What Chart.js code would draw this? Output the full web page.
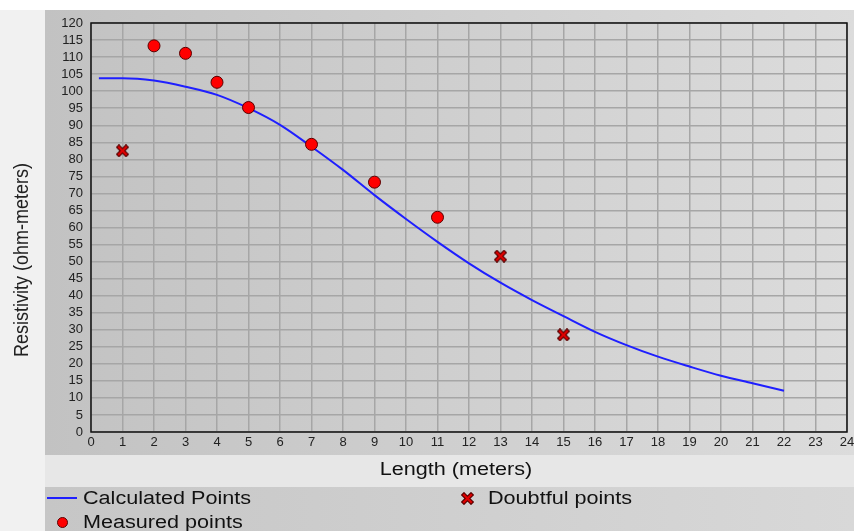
<!DOCTYPE html>
<html>
<head>
<meta charset="utf-8">
<script src="https://cdn.jsdelivr.net/npm/chart.js@4.4.0/dist/chart.umd.min.js"></script>
<style>
  html, body { margin: 0; padding: 0; background: #fff; }
  #wrap { position: relative; width: 854px; height: 531px; }
  #legend {
    position: absolute; left: 47px; top: 486px;
    display: grid; grid-template-columns: 405px auto;
    font: 18px "Liberation Sans", Arial, sans-serif; color: #111;
  }
  .item { display: flex; align-items: center; height: 24px; white-space: nowrap; }
  .mark { width: 30px; height: 16px; display: flex; align-items: center; justify-content: center; margin-right: 6px; }
  .txt { display: inline-block; transform: scaleX(1.2); transform-origin: left center; }
</style>
</head>
<body>
<div id="wrap">
  <canvas id="chart" width="854" height="531"></canvas>
  <div id="legend"></div>
</div>
<script>
// calculated curve
const calcX = [0.25, 1, 2, 3, 4, 5, 6, 7, 8, 9, 10, 11, 12, 13, 14, 15, 16, 17, 18, 19, 20, 21, 22]
const calcY = [103.8, 103.8, 103.1, 101.3, 98.9, 95.0, 90.1, 83.7, 76.9, 69.5, 62.5, 55.8, 49.5, 43.8, 38.7, 34.0, 29.4, 25.5, 22.1, 19.2, 16.5, 14.3, 12.1]

// measured points
const measX = [2, 3, 4, 5, 7, 9, 11]
const measY = [113.3, 111.1, 102.6, 95.2, 84.4, 73.3, 63.0]

// doubtful points
const doubtX = [1, 13, 15]
const doubtY = [82.5, 51.6, 28.5]

const xTitle = 'Length (meters)'
const yTitle = 'Resistivity (ohm-meters)'

const FONT = '"Liberation Sans", Arial, sans-serif'
const toPts = (xs, ys) => xs.map((x, i) => ({ x: x, y: ys[i] }))

// little red cross used for the doubtful points
const cross = document.createElement('canvas')
cross.width = 13; cross.height = 13
const cc = cross.getContext('2d')
cc.lineCap = 'square'
cc.beginPath()
cc.moveTo(3, 3); cc.lineTo(10, 10)
cc.moveTo(10, 3); cc.lineTo(3, 10)
cc.strokeStyle = '#5a0000'; cc.lineWidth = 4.5; cc.stroke()
cc.strokeStyle = '#e00000'; cc.lineWidth = 2.2; cc.stroke()

const background = {
    id: 'background',
    beforeDraw(chart) {
        const ctx = chart.ctx
        ctx.save()
        ctx.fillStyle = '#ffffff'
        ctx.fillRect(0, 0, 854, 531)
        ctx.fillStyle = '#f1f1f1'
        ctx.fillRect(0, 10, 854, 521)
        let g = ctx.createLinearGradient(45, 0, 854, 0)
        g.addColorStop(0, '#c2c2c2')
        g.addColorStop(1, '#dcdcdc')
        ctx.fillStyle = g
        ctx.fillRect(45, 10, 809, 445)
        ctx.fillStyle = '#e7e7e7'
        ctx.fillRect(45, 455, 809, 32)
        g = ctx.createLinearGradient(45, 0, 854, 0)
        g.addColorStop(0, '#c6c6c6')
        g.addColorStop(1, '#d8d8d8')
        ctx.fillStyle = g
        ctx.fillRect(45, 487, 809, 44)
        ctx.restore()
    },
    afterDraw(chart) {
        const a = chart.chartArea
        const ctx = chart.ctx
        ctx.save()
        ctx.strokeStyle = '#111'
        ctx.lineWidth = 1.5
        ctx.strokeRect(a.left, a.top, a.right - a.left, a.bottom - a.top)
        ctx.font = '18px ' + FONT
        ctx.fillStyle = '#111'
        ctx.textAlign = 'center'
        ctx.textBaseline = 'middle'
        // x axis title (the original is a bit stretched sideways)
        ctx.save()
        ctx.translate(456, 470)
        ctx.scale(1.2, 1)
        ctx.fillText(xTitle, 0, 0)
        ctx.restore()
        // y axis title
        ctx.translate(22, 260)
        ctx.rotate(-Math.PI / 2)
        ctx.scale(1, 1.15)
        ctx.fillStyle = '#222'
        ctx.fillText(yTitle, 0, 0)
        ctx.restore()
    }
}

const chart = new Chart(document.getElementById('chart'), {
    type: 'scatter',
    data: {
        datasets: [
            {
                label: 'Calculated Points',
                data: toPts(calcX, calcY),
                showLine: true,
                borderColor: '#1f1fff',
                borderWidth: 2,
                pointRadius: 0,
                cubicInterpolationMode: 'monotone',
                order: 3
            },
            {
                label: 'Doubtful points',
                data: toPts(doubtX, doubtY),
                pointStyle: cross,
                order: 1
            },
            {
                label: 'Measured points',
                data: toPts(measX, measY),
                pointStyle: 'circle',
                pointRadius: 6,
                backgroundColor: '#ff0000',
                borderColor: '#5a0000',
                borderWidth: 1,
                order: 2
            }
        ]
    },
    options: {
        responsive: false,
        animation: false,
        layout: { padding: { top: 23, right: 6, bottom: 44, left: 0 } },
        plugins: {
            legend: { display: false },
            tooltip: { enabled: false }
        },
        scales: {
            x: {
                type: 'linear',
                min: 0, max: 24,
                ticks: { stepSize: 1, autoSkip: false, maxRotation: 0, padding: 3, color: '#222', font: { size: 13, family: FONT } },
                grid: { color: '#a6a6a6', lineWidth: 1.5, drawTicks: false },
                border: { display: false },
                afterFit: s => { s.height = 55; s.paddingRight = 0; s.paddingLeft = 0 }
            },
            y: {
                min: 0, max: 120,
                ticks: { stepSize: 5, autoSkip: false, padding: 8, color: '#222', font: { size: 13, family: FONT } },
                grid: { color: '#a6a6a6', lineWidth: 1.5, drawTicks: false },
                border: { display: false },
                afterFit: s => { s.width = 91 }
            }
        }
    },
    plugins: [background]
})

// legend built from the datasets
const legend = document.getElementById('legend')
chart.data.datasets.forEach(ds => {
    const item = document.createElement('div')
    item.className = 'item'
    const mark = document.createElement('span')
    mark.className = 'mark'
    let m
    if (ds.showLine) {
        m = document.createElement('span')
        m.style.cssText = 'width:30px;height:2px;background:' + ds.borderColor
    } else if (ds.pointStyle === 'circle') {
        m = document.createElement('span')
        m.style.cssText = 'width:11px;height:11px;border-radius:50%;box-sizing:border-box;background:' + ds.backgroundColor + ';border:1px solid ' + ds.borderColor
    } else {
        m = document.createElement('img')
        m.src = ds.pointStyle.toDataURL()
    }
    mark.appendChild(m)
    const txt = document.createElement('span')
    txt.className = 'txt'
    txt.textContent = ds.label
    item.appendChild(mark)
    item.appendChild(txt)
    legend.appendChild(item)
})
</script>
</body>
</html>
